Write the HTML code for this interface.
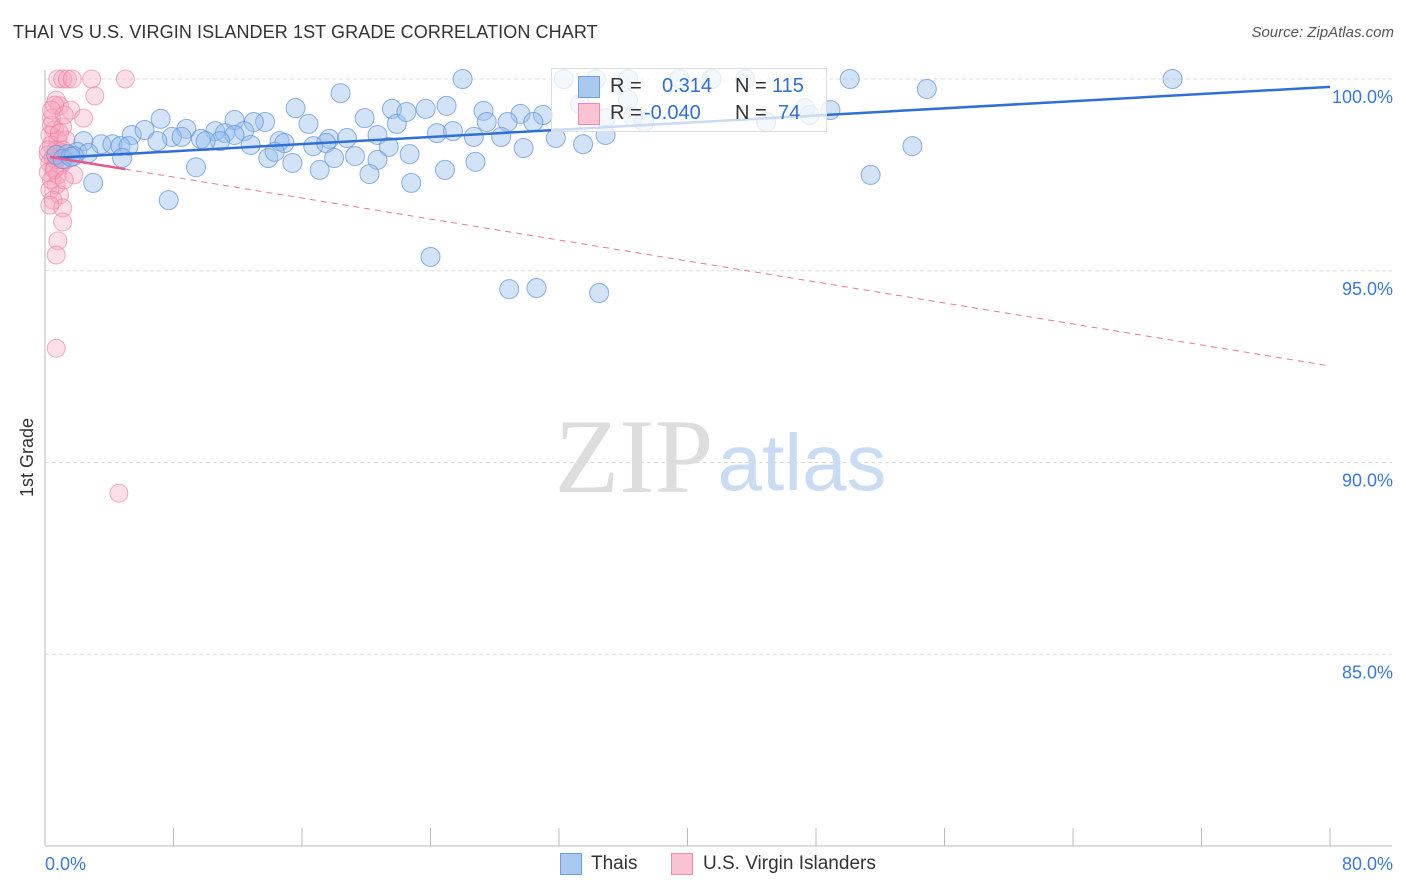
<!DOCTYPE html>
<html><head><meta charset="utf-8"><style>
body{margin:0;background:#fff;font-family:"Liberation Sans",sans-serif;}
#wrap{position:relative;width:1406px;height:892px;overflow:hidden;}
.t{position:absolute;white-space:nowrap;}
</style></head><body>
<div id="wrap">
<div class="t" style="left:13px;top:22px;font-size:18px;color:#333;letter-spacing:0.1px">THAI VS U.S. VIRGIN ISLANDER 1ST GRADE CORRELATION CHART</div>
<div class="t" style="right:12px;top:24px;font-size:15px;color:#555;font-style:italic">Source: ZipAtlas.com</div>
<div class="t" style="left:17px;top:497px;font-size:18px;color:#333;transform:rotate(-90deg);transform-origin:left top">1st Grade</div>
<svg id="svg" width="1406" height="892" style="position:absolute;left:0;top:0"></svg>
<div class="t" style="left:551px;top:68px;width:274px;height:62px;border:1px solid #ddd;background:rgba(255,255,255,0.75);font-size:20px">
 <div style="position:absolute;left:26px;top:7px;width:20px;height:20px;background:#a9c8f0;border:1px solid #6f9fe0"></div>
 <div class="t" style="left:58px;top:6px;color:#333">R =</div><div class="t" style="left:110px;top:6px;color:#2f6fd6">0.314</div>
 <div class="t" style="left:183px;top:6px;color:#333">N =</div><div class="t" style="left:220px;top:6px;color:#2f6fd6">115</div>
 <div style="position:absolute;left:26px;top:34px;width:20px;height:20px;background:#f9c3d3;border:1px solid #f08aaa"></div>
 <div class="t" style="left:58px;top:33px;color:#333">R =</div><div class="t" style="left:92px;top:33px;color:#2f6fd6">-0.040</div>
 <div class="t" style="left:183px;top:33px;color:#333">N =</div><div class="t" style="left:226px;top:33px;color:#2f6fd6">74</div>
</div>
<div style="position:absolute;left:560px;top:853px;width:20px;height:20px;background:#a9c8f0;border:1px solid #6f9fe0"></div>
<div class="t" style="left:591px;top:853px;font-size:19px;color:#333">Thais</div>
<div style="position:absolute;left:671px;top:853px;width:20px;height:20px;background:#f9c3d3;border:1px solid #f08aaa"></div>
<div class="t" style="left:703px;top:853px;font-size:19px;color:#333">U.S. Virgin Islanders</div>
</div>
<script>
const thaiX=[26.0,32.3,34.3,36.3,39.5,41.5,43.6,50.1,70.2,54.9,18.4,15.6,21.6,23.7,25.0,27.3,29.6,31.0,33.3,36.3,36.6,7.2,11.8,13.7,13.0,16.4,19.9,21.9,22.5,27.5,28.8,30.4,34.9,37.3,44.9,47.3,48.9,47.6,8.8,10.6,12.4,5.4,6.2,7.9,8.5,9.7,11.2,11.8,10.9,14.6,17.7,18.8,20.7,24.4,25.4,28.4,31.8,34.9,2.4,3.5,4.2,4.7,5.2,7.0,10.0,12.8,14.9,16.7,17.5,21.4,26.7,29.8,33.5,54.0,0.7,1.4,2.0,2.7,1.1,1.8,1.6,4.8,13.9,14.3,15.4,18.0,19.3,20.7,22.7,17.1,20.2,22.8,24.9,26.8,9.4,3.0,51.4,7.7,24.0,28.9,30.6,34.5];
const thaiY=[100,100,100,100,100,100,100,100,100,99.74,99.63,99.24,99.22,99.22,99.30,99.17,99.09,99.06,99.35,99.45,99.01,98.96,98.93,98.88,98.88,98.83,98.98,98.83,99.14,98.88,98.88,98.88,98.98,98.88,98.88,99.24,99.19,99.06,98.70,98.64,98.64,98.54,98.67,98.49,98.49,98.44,98.59,98.54,98.38,98.38,98.44,98.46,98.54,98.59,98.64,98.49,98.46,98.54,98.38,98.30,98.30,98.25,98.25,98.38,98.38,98.28,98.33,98.25,98.33,98.23,98.49,98.20,98.30,98.25,98.02,98.04,98.10,98.07,97.91,97.99,97.97,97.94,97.94,98.10,97.81,97.94,97.99,97.89,98.04,97.63,97.52,97.29,97.63,97.84,97.70,97.29,97.50,96.84,95.36,94.52,94.55,94.42];
const viX=[0.8,1.1,1.4,1.7,2.9,5.0,3.1,0.7,0.9,1.6,2.4,0.4,0.6,1.1,0.3,0.8,0.4,0.7,0.9,0.2,0.5,0.7,0.3,1.0,0.6,0.2,0.8,1.8,0.4,0.7,0.3,0.9,0.5,1.1,0.3,1.1,0.8,0.7,0.7,4.6,0.6,1.2,0.4,1.3,1.1,0.6,1.2,0.2,0.9,0.4,1.3];
const viY=[100,100,100,100,100,100,99.56,99.45,99.30,99.19,98.98,98.98,98.67,98.75,98.54,98.41,98.28,98.15,98.10,98.02,97.94,97.89,97.81,97.76,97.68,97.57,97.50,97.50,97.37,97.24,97.11,96.98,96.84,96.64,96.71,96.27,95.78,95.41,92.98,89.2,99.32,99.06,98.80,98.41,98.15,97.63,97.37,98.15,98.59,99.19,97.89];
const yTicks=[100,95,90,85];
const yTickLabels=["100.0%","95.0%","90.0%","85.0%"];
const xTicks=[0,8,16,24,32,40,48,56,64,72,80];
const thaiFit=[97.93,0.0233];
const viFit=[97.99,-0.0684];
const NS='http://www.w3.org/2000/svg';
const svg=document.getElementById('svg');
const X=v=>45+v/80*1285;
const Y=v=>79+(100-v)*38.35;
function mk(tag,attrs){const e=document.createElementNS(NS,tag);for(const k in attrs)e.setAttribute(k,attrs[k]);svg.appendChild(e);return e;}
yTicks.forEach((t,i)=>{
 const g=mk('line',{x1:45,x2:1392,y1:Y(t),y2:Y(t),stroke:'#ddd','stroke-dasharray':'4,3'});
 
 
 const tx=mk('text',{x:1393,y:Y(t)+24,'text-anchor':'end','font-size':18,fill:'#3b78d8','font-family':'Liberation Sans, sans-serif'});
 tx.textContent=yTickLabels[i];
 
 
});
const ax=mk('line',{x1:45,x2:45,y1:70,y2:846,stroke:'#bbb'});


const bx=mk('line',{x1:45,x2:1392,y1:846,y2:846,stroke:'#bbb'});


xTicks.forEach(t=>{const l=mk('line',{x1:X(t),x2:X(t),y1:828,y2:846,stroke:'#bbb'});
 
 });
[[0,'start','0.0%'],[80,'end','80.0%']].forEach(a=>{const tx=mk('text',{x:a[0]==0?45:1393,y:870,'text-anchor':a[1],'font-size':18,fill:'#3b78d8','font-family':'Liberation Sans, sans-serif'});tx.textContent=a[2];
 
 });
const wm1=mk('text',{x:634,y:492,'text-anchor':'middle','font-size':106,fill:'#ddd','font-family':'Liberation Serif, serif'});wm1.textContent='ZIP';


const wm2=mk('text',{x:802,y:490,'text-anchor':'middle','font-size':80,fill:'#c9dcf3','font-family':'Liberation Sans, sans-serif'});wm2.textContent='atlas';


viX.forEach((x,i)=>{const c=mk('circle',{cx:X(x),cy:Y(viY[i]),r:9,fill:'rgba(246,164,190,0.35)',stroke:'rgba(238,120,160,0.6)','stroke-width':1});
 
 });
thaiX.forEach((x,i)=>{const c=mk('circle',{cx:X(x),cy:Y(thaiY[i]),r:9.5,fill:'rgba(147,189,238,0.42)',stroke:'rgba(95,145,220,0.7)','stroke-width':1});
 
 });
const f=(p,x)=>p[0]+p[1]*x;
const tl=mk('line',{x1:X(0.6),y1:Y(f(thaiFit,0.6)),x2:X(80),y2:Y(f(thaiFit,80)),stroke:'#2f6fd6','stroke-width':2.5});


const vl=mk('line',{x1:X(0.3),y1:Y(f(viFit,0.3)),x2:X(5),y2:Y(f(viFit,5)),stroke:'#e8588a','stroke-width':2.5});


const vd=mk('line',{x1:X(5),y1:Y(f(viFit,5)),x2:X(80),y2:Y(f(viFit,80)),stroke:'#e8789a','stroke-width':1,'stroke-dasharray':'6,5'});


</script>
</body></html>
